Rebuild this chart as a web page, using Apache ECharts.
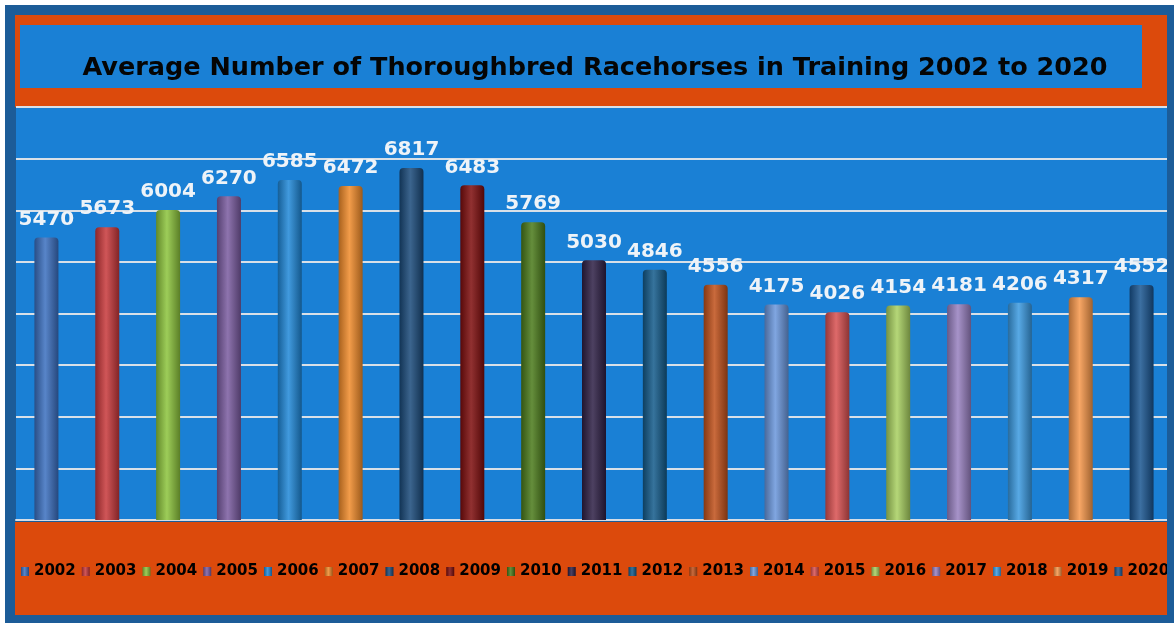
<!DOCTYPE html>
<html>
<head>
<meta charset="utf-8">
<script src="https://cdn.jsdelivr.net/npm/echarts@6/dist/echarts.min.js"></script>
<style>
  html, body { margin: 0; padding: 0; background: #fff; }
  #main { width: 1174px; height: 623px; }
</style>
</head>
<body>
<div id="main"></div>
<script>
// 数据
var years = ['2002','2003','2004','2005','2006','2007','2008','2009','2010','2011',
             '2012','2013','2014','2015','2016','2017','2018','2019','2020'];
var horses = [5470, 5673, 6004, 6270, 6585, 6472, 6817, 6483, 5769, 5030,
              4846, 4556, 4175, 4026, 4154, 4181, 4206, 4317, 4552];
var barColors = ['#3a6fc0','#c8383a','#8cc43c','#7a5ba0','#1f88d8','#f08a2a','#1a4a7a','#7e0d0d','#4a7a1a','#2e1f45',
                 '#135a8a','#c0501a','#6a96dc','#d85050','#a8d060','#9880c0','#3a9ae0','#f5964a','#1a5590'];
var yTicks = [0, 8000, 1000]; // min, max, interval

// 颜色加深/变浅
function shade(hex, f){
    var n = parseInt(hex.slice(1), 16);
    var r = (n >> 16) & 255, g = (n >> 8) & 255, b = n & 255;
    function c(v){
        v = f < 0 ? v * (1 + f) : v + (255 - v) * f;
        return Math.max(0, Math.min(255, Math.round(v)));
    }
    return 'rgb(' + c(r) + ',' + c(g) + ',' + c(b) + ')';
}

var series = [];
for (var i = 0; i < years.length; i++) {
    var d = [];
    for (var j = 0; j < years.length; j++) d.push(j === i ? horses[i] : '-');
    var base = barColors[i];
    series.push({
        name: years[i],
        type: 'bar',
        stack: 'all',
        barWidth: 24,
        data: d,
        itemStyle: {
            color: new echarts.graphic.LinearGradient(0, 0, 1, 0, [
                {offset: 0, color: shade(base, -0.3)},
                {offset: 0.45, color: shade(base, 0.15)},
                {offset: 1, color: shade(base, -0.35)}
            ]),
            borderRadius: [4, 4, 0, 0]
        },
        label: {
            show: true,
            position: 'top',
            distance: 8,
            color: '#eef3f8',
            fontFamily: 'DejaVu Sans',
            fontWeight: 'bold',
            fontSize: 20
        }
    });
}

var chart = echarts.init(document.getElementById('main'));
var option = {
    backgroundColor: '#ffffff',
    animation: false,
    graphic: [
        {type: 'rect', z: -10, shape: {x: 5, y: 5, width: 1169, height: 618}, style: {fill: '#1c5c98'}},
        {type: 'rect', z: -9, shape: {x: 15, y: 15, width: 1153, height: 92}, style: {fill: '#dc4a0c'}},
        {type: 'rect', z: -8, shape: {x: 20, y: 25, width: 1122, height: 63}, style: {fill: '#1a80d5'}},
        {type: 'rect', z: -9, shape: {x: 15, y: 522, width: 1153, height: 93}, style: {fill: '#dc4a0c'}},
        {type: 'text', z: 5, style: {
            x: 595, y: 68,
            text: 'Average Number of Thoroughbred Racehorses in Training 2002 to 2020',
            fill: '#050505', font: 'bold 25.5px "DejaVu Sans"', align: 'center', verticalAlign: 'middle'
        }},
        // 右边框遮挡
        {type: 'rect', z: 100, shape: {x: 1167, y: 5, width: 7, height: 618}, style: {fill: '#1c5c98'}}
    ],
    grid: {
        left: 16, right: 2, top: 107, bottom: 103,
        show: true, backgroundColor: '#1a80d5', borderWidth: 0
    },
    legend: {
        left: 16,
        top: 559,
        width: 1400,
        itemWidth: 8,
        itemHeight: 9,
        itemGap: 6,
        icon: 'rect',
        textStyle: {color: '#000', fontFamily: 'DejaVu Sans', fontWeight: 'bold', fontSize: 15}
    },
    xAxis: {
        type: 'category',
        data: years,
        axisLine: {show: true, lineStyle: {color: '#d5dde6', width: 2}},
        axisTick: {show: false},
        axisLabel: {show: false}
    },
    yAxis: {
        type: 'value',
        min: yTicks[0],
        max: yTicks[1],
        interval: yTicks[2],
        axisLine: {show: false},
        axisTick: {show: false},
        axisLabel: {show: false},
        splitLine: {lineStyle: {color: '#d8e0e8', width: 2}}
    },
    series: series
};
chart.setOption(option);
</script>
</body>
</html>
